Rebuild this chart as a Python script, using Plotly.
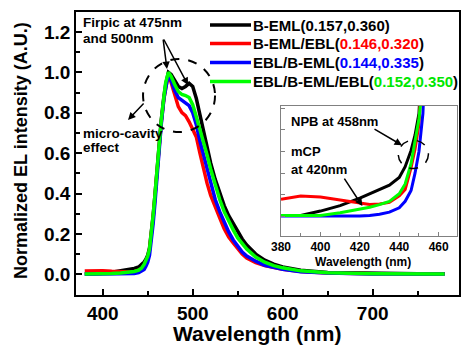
import plotly.graph_objects as go

# ---------------- data ----------------
wavelength = [380, 390, 400, 410, 420, 425, 430, 435, 440, 443, 446, 448, 450, 452, 454, 456, 458, 460,
              462, 465, 468, 470, 473, 476, 480, 484, 488, 492, 496, 500, 504, 508, 512, 516, 520, 525,
              530, 535, 540, 545, 550, 555, 560, 570, 580, 590, 600, 620, 650, 700, 750, 780]

b_eml = [0.001, 0.001, 0.005, 0.010, 0.017, 0.021, 0.025, 0.029, 0.036, 0.046, 0.061, 0.075, 0.095, 0.13,
         0.20, 0.29, 0.39, 0.51, 0.61, 0.76, 0.88, 0.94, 1.0, 0.99, 0.96, 0.93, 0.92, 0.93, 0.945, 0.93,
         0.87, 0.79, 0.71, 0.62, 0.55, 0.47, 0.40, 0.34, 0.29, 0.25, 0.21, 0.175, 0.145, 0.10, 0.07, 0.05,
         0.036, 0.02, 0.009, 0.004, 0.003, 0.003]

b_eml_ebl = [0.016, 0.019, 0.018, 0.015, 0.012, 0.011, 0.0115, 0.013, 0.019, 0.025, 0.045, 0.062, 0.085,
             0.12, 0.19, 0.28, 0.38, 0.50, 0.60, 0.75, 0.87, 0.93, 0.995, 0.95, 0.89, 0.83, 0.80, 0.785,
             0.755, 0.72, 0.68, 0.60, 0.52, 0.45, 0.39, 0.33, 0.28, 0.225, 0.185, 0.155, 0.125, 0.10, 0.08,
             0.058, 0.043, 0.033, 0.025, 0.014, 0.007, 0.003, 0.003, 0.003]

ebl_b_eml = [0.0005, 0.0005, 0.0003, 0.0003, 0.0005, 0.001, 0.002, 0.004, 0.008, 0.014, 0.024, 0.04, 0.06,
             0.095, 0.16, 0.25, 0.35, 0.47, 0.58, 0.74, 0.87, 0.93, 0.995, 0.96, 0.91, 0.875, 0.86, 0.85,
             0.835, 0.80, 0.74, 0.66, 0.59, 0.52, 0.44, 0.37, 0.31, 0.255, 0.21, 0.17, 0.14, 0.11, 0.09,
             0.065, 0.045, 0.033, 0.025, 0.013, 0.006, 0.002, 0.002, 0.002]

ebl_b_eml_ebl = [0.001, 0.001, 0.001, 0.0034, 0.0065, 0.0085, 0.011, 0.014, 0.021, 0.03, 0.049, 0.068, 0.09,
                 0.125, 0.20, 0.29, 0.39, 0.51, 0.61, 0.76, 0.88, 0.95, 1.0, 0.98, 0.94, 0.905, 0.89, 0.885,
                 0.875, 0.84, 0.78, 0.72, 0.66, 0.59, 0.52, 0.44, 0.37, 0.31, 0.26, 0.22, 0.18, 0.15, 0.125,
                 0.085, 0.06, 0.043, 0.032, 0.017, 0.008, 0.003, 0.002, 0.002]

series_names = ["B-EML", "B-EML/EBL", "EBL/B-EML", "EBL/B-EML/EBL"]
cie_labels = ["0.157,0.360", "0.146,0.320", "0.144,0.335", "0.152,0.350"]
series_values = [b_eml, b_eml_ebl, ebl_b_eml, ebl_b_eml_ebl]
colors = ["#000000", "#ff0000", "#0000ff", "#00ff00"]
label_colors = ["#000000", "#ff0000", "#0000ff", "#00e600"]

main_x_ticks = [400, 500, 600, 700]
main_y_ticks = [0.0, 0.2, 0.4, 0.6, 0.8, 1.0, 1.2]
inset_x_ticks = [380, 400, 420, 440, 460]

FONT = "Liberation Sans, Arial, sans-serif"
W, H = 461, 347

def px(x):
    return x / W

def py(y):
    return 1 - y / H

fig = go.Figure()

for name, vals, c in zip(series_names, series_values, colors):
    fig.add_trace(go.Scatter(x=wavelength, y=vals, mode="lines", name=name,
                             line=dict(color=c, width=3.5), xaxis="x", yaxis="y", showlegend=False))
for name, vals, c in zip(series_names, series_values, colors):
    fig.add_trace(go.Scatter(x=wavelength, y=vals, mode="lines", name=name,
                             line=dict(color=c, width=3), xaxis="x2", yaxis="y2", showlegend=False))

axis_common = dict(showgrid=False, zeroline=False, mirror=True, showline=True, automargin=False,
                   linecolor="black", linewidth=1.5, ticks="inside", tickcolor="black")

fig.update_layout(
    width=W, height=H,
    margin=dict(l=0, r=0, t=0, b=0, autoexpand=False),
    paper_bgcolor="white", plot_bgcolor="white",
    xaxis=dict(domain=[px(76), px(459)], range=[370.3, 795.9], tickvals=main_x_ticks,
               ticklen=6, tickwidth=1.5,
               minor=dict(ticks="inside", dtick=50, tick0=400, ticklen=4, tickcolor="black", tickwidth=1.5),
               tickfont=dict(family=FONT, size=19, color="black", weight="bold"),
               anchor="y", **axis_common),
    yaxis=dict(domain=[py(295), py(11.7)], range=[-0.1025, 1.300], tickvals=main_y_ticks,
               tickformat=".1f", ticklen=6, tickwidth=1.5,
               minor=dict(ticks="inside", dtick=0.1, tick0=0, ticklen=4, tickcolor="black", tickwidth=1.5),
               tickfont=dict(family=FONT, size=19, color="black", weight="bold"),
               anchor="x", **axis_common),
    xaxis2=dict(domain=[px(281), px(457)], range=[380, 469.3], tickvals=inset_x_ticks,
                showgrid=False, zeroline=False, mirror=True, showline=True, automargin=False,
                linecolor="#808080", linewidth=1, ticks="inside", ticklen=4, tickcolor="#808080",
                minor=dict(ticks="inside", dtick=10, tick0=380, ticklen=3, tickcolor="#808080"),
                tickfont=dict(family=FONT, size=12, color="black", weight="bold"),
                anchor="y2"),
    yaxis2=dict(domain=[py(236), py(106)], range=[-0.018, 0.102], dtick=0.02, tick0=0,
                showticklabels=False, showgrid=False, zeroline=False, mirror=True, showline=True,
                automargin=False,
                linecolor="#808080", linewidth=1, ticks="inside", ticklen=4, tickcolor="#808080",
                anchor="x2"),
)

annotations = []
# axis titles
annotations.append(dict(text="Wavelength (nm)", xref="paper", yref="paper", x=px(257), y=py(333),
                        showarrow=False, xanchor="center", yanchor="middle",
                        font=dict(family=FONT, size=21, color="black", weight="bold")))
annotations.append(dict(text="Normalized EL intensity (A.U.)", xref="paper", yref="paper",
                        x=px(21), y=py(151), textangle=-90, showarrow=False,
                        xanchor="center", yanchor="middle",
                        font=dict(family=FONT, size=18, color="black", weight="bold")))
annotations.append(dict(text="Wavelength (nm)", xref="paper", yref="paper", x=px(363), y=py(262),
                        showarrow=False, xanchor="center", yanchor="middle",
                        font=dict(family=FONT, size=12, color="black", weight="bold")))

# legend (manual, with coloured CIE coordinates)
legend_y = [25, 43.5, 62.5, 81.5]
shapes = []
for name, lab, c, lc, yy in zip(series_names, cie_labels, colors, label_colors, legend_y):
    shapes.append(dict(type="line", xref="paper", yref="paper", x0=px(210), x1=px(251),
                       y0=py(yy), y1=py(yy), line=dict(color=c, width=3.5)))
    annotations.append(dict(text=f"{name}(<span style='color:{lc}'>{lab}</span>)",
                            xref="paper", yref="paper", x=px(251), y=py(yy), showarrow=False,
                            xanchor="left", yanchor="middle",
                            font=dict(family=FONT, size=15, color="black", weight="bold")))

main_note_font = dict(family=FONT, size=13.5, color="black", weight="bold")
inset_note_font = dict(family=FONT, size=13, color="black", weight="bold")
for txt, xx, yy, f in [("Firpic at 475nm", 81, 22.5, main_note_font), ("and 500nm", 81, 38, main_note_font),
                       ("micro-cavity", 81, 133, main_note_font), ("effect", 81, 148, main_note_font),
                       ("NPB at 458nm", 289, 121.5, inset_note_font), ("mCP", 289, 151.5, inset_note_font),
                       ("at 420nm", 289, 170, inset_note_font)]:
    annotations.append(dict(text=txt, xref="paper", yref="paper", x=px(xx), y=py(yy), showarrow=False,
                            xanchor="left", yanchor="middle", font=f))

arrow_style = dict(showarrow=True, arrowhead=2, arrowsize=1, arrowwidth=1.5, arrowcolor="black", text="")
# Firpic arrows (main axes)
annotations.append(dict(x=471.4, y=1.016, xref="x", yref="y", ax=-4, ay=-31, **arrow_style))
annotations.append(dict(x=494.8, y=0.937, xref="x", yref="y", ax=-25, ay=-47, **arrow_style))
# micro-cavity arrow
annotations.append(dict(x=428.1, y=0.764, xref="x", yref="y", ax=17, ay=-18, **arrow_style))
# inset arrows
annotations.append(dict(x=441.4, y=0.0658, xref="x2", yref="y2", ax=-29, ay=-17, **arrow_style))
annotations.append(dict(x=421.3, y=0.0096, xref="x2", yref="y2", ax=-19, ay=-29, **arrow_style))

# dashed circles
shapes.append(dict(type="circle", xref="x", yref="y", x0=444.8, x1=524.8, y0=0.704, y1=1.066,
                   line=dict(color="black", width=2, dash="dash")))
shapes.append(dict(type="circle", xref="x2", yref="y2", x0=439.5, x1=454.8, y0=0.0443, y1=0.0704,
                   line=dict(color="black", width=1.5, dash="dash")))

fig.update_layout(annotations=annotations, shapes=shapes)
fig.write_html("out.html")
